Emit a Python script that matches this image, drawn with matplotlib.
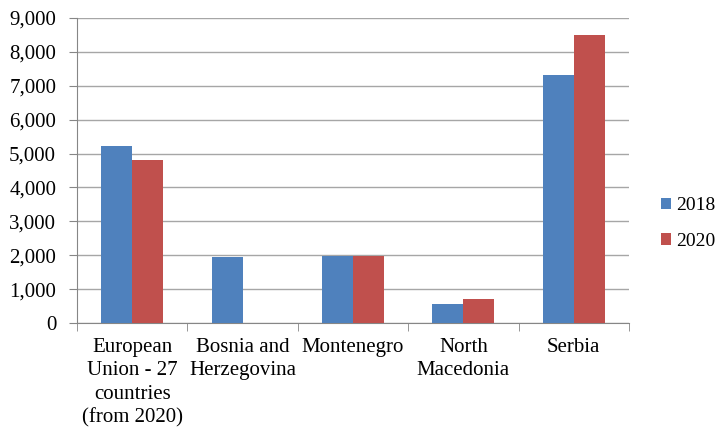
import numpy as np
import matplotlib.pyplot as plt
from matplotlib.ticker import FuncFormatter, FixedLocator

categories = ["European\nUnion - 27\ncountries\n(from 2020)", "Bosnia and\nHerzegovina",
              "Montenegro", "North\nMacedonia", "Serbia"]
values_2018 = [5220, 1940, 1990, 570, 7310]
values_2020 = [4810, 0, 1990, 710, 8500]
years = ["2018", "2020"]

plt.rcParams['font.family'] = ['Liberation Serif', 'DejaVu Serif']

fig = plt.figure(figsize=(7.16, 4.32), dpi=100)
ax = fig.add_axes([0.1075, 0.2523, 0.771, 0.706])

x = np.arange(len(categories))
w = 0.28
ax.bar(x - w / 2, values_2018, w, color="#4F81BD", label=years[0], zorder=3)
ax.bar(x + w / 2, values_2020, w, color="#C0504D", label=years[1], zorder=3)

ax.set_xlim(-0.5, len(categories) - 0.5)
ax.set_ylim(0, 9000)
ax.set_yticks(np.arange(0, 9001, 1000))
ax.yaxis.set_major_formatter(FuncFormatter(lambda v, p: f"{int(v):,}"))
ax.yaxis.grid(True, color="#A6A6A6", linewidth=1, zorder=0)

ax.set_xticks(x)
ax.set_xticklabels(categories, fontsize=15, linespacing=1.3)
ax.xaxis.set_minor_locator(FixedLocator(np.arange(-0.5, len(categories), 1)))
ax.tick_params(axis="x", which="major", length=0, pad=11)
ax.tick_params(axis="x", which="minor", length=6, color="#868686", direction="out")
ax.tick_params(axis="y", length=6, color="#868686", labelsize=15, pad=9)

for s in ["top", "right"]:
    ax.spines[s].set_visible(False)
for s in ["left", "bottom"]:
    ax.spines[s].set_color("#868686")

fig.legend(loc="upper left", bbox_to_anchor=(0.923, 0.543), frameon=False,
           fontsize=14, borderpad=0, borderaxespad=0, handlelength=0.5,
           handleheight=0.5, handletextpad=0.3, labelspacing=0.95)

fig.savefig("out.png", dpi=100)
